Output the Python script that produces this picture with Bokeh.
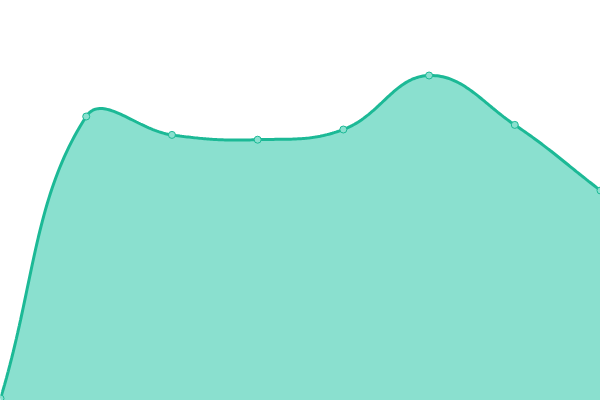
import numpy as np
from bokeh.plotting import figure
from bokeh.models import Range1d, ColumnDataSource
from bokeh.embed import file_html
from bokeh.resources import INLINE

# Data
categories = [0, 1, 2, 3, 4, 5, 6, 7]
values = [0.5, 71.0, 66.4, 65.2, 67.75, 81.25, 68.9, 52.5]

LINE = "#1cb996"
FILL = "#8ae0cf"

W, H = 600, 400
x_range = Range1d(0, 7)
y_range = Range1d(0, 100)

p = figure(width=W, height=H, x_range=x_range, y_range=y_range,
           output_backend="svg", toolbar_location=None, min_border=0)
p.xaxis.visible = False
p.yaxis.visible = False
p.grid.visible = False
p.outline_line_color = None
p.background_fill_color = "white"
p.border_fill_color = "white"

# Chart.js-style spline (tension 0.4), computed in screen space
sx = W / (x_range.end - x_range.start)
sy = H / (y_range.end - y_range.start)
P = np.array([[c * sx, v * sy] for c, v in zip(categories, values)], dtype=float)
n = len(P)
tension = 0.4
cp_prev = P.copy()
cp_next = P.copy()
for i in range(n):
    prev = P[i - 1] if i > 0 else P[i]
    nxt = P[i + 1] if i < n - 1 else P[i]
    d01 = np.hypot(*(P[i] - prev))
    d12 = np.hypot(*(nxt - P[i]))
    tot = d01 + d12
    s01 = d01 / tot if tot else 0
    s12 = d12 / tot if tot else 0
    cp_prev[i] = P[i] - tension * s01 * (nxt - prev)
    cp_next[i] = P[i] + tension * s12 * (nxt - prev)

xs, ys = [], []
t = np.linspace(0, 1, 50)
for i in range(n - 1):
    a, b, c, d = P[i], cp_next[i], cp_prev[i + 1], P[i + 1]
    seg = ((1 - t) ** 3)[:, None] * a + (3 * t * (1 - t) ** 2)[:, None] * b \
        + (3 * t ** 2 * (1 - t))[:, None] * c + (t ** 3)[:, None] * d
    if i > 0:
        seg = seg[1:]
    xs.extend(seg[:, 0] / sx)
    ys.extend(seg[:, 1] / sy)

curve = ColumnDataSource(dict(x=xs, y=ys, y0=[0] * len(xs)))
p.varea(x="x", y1="y0", y2="y", source=curve, fill_color=FILL, fill_alpha=1.0)
p.line(x="x", y="y", source=curve, line_color=LINE, line_width=3)
p.scatter(categories, values, marker="circle", size=7, fill_color=FILL,
          line_color=LINE, line_width=1)

open("out.html", "w").write(file_html(p, INLINE))
